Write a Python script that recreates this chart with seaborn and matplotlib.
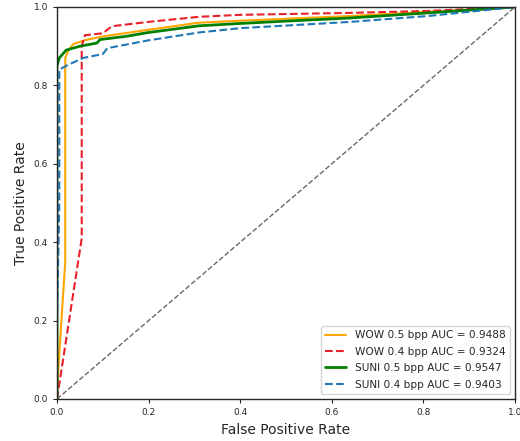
import pandas as pd
import seaborn as sns
import matplotlib.pyplot as plt

# ROC curve points
wow05_fpr = [0.0, 0.003, 0.018, 0.018, 0.025, 0.035, 0.06, 0.10, 0.20, 0.31, 0.40, 0.50, 0.64, 0.81, 0.90, 1.0]
wow05_tpr = [0.0, 0.08, 0.35, 0.87, 0.89, 0.905, 0.915, 0.925, 0.942, 0.960, 0.965, 0.970, 0.977, 0.988, 0.993, 1.0]

wow04_fpr = [0.0, 0.054, 0.054, 0.061, 0.10, 0.12, 0.20, 0.31, 0.40, 0.64, 0.81, 1.0]
wow04_tpr = [0.0, 0.41, 0.90, 0.928, 0.933, 0.951, 0.962, 0.975, 0.980, 0.985, 0.990, 1.0]

suni05_fpr = [0.0, 0.0, 0.005, 0.02, 0.05, 0.087, 0.094, 0.15, 0.20, 0.31, 0.40, 0.50, 0.64, 0.81, 1.0]
suni05_tpr = [0.0, 0.85, 0.87, 0.89, 0.90, 0.908, 0.917, 0.925, 0.935, 0.952, 0.958, 0.964, 0.972, 0.985, 1.0]

suni04_fpr = [0.0, 0.0, 0.005, 0.005, 0.02, 0.057, 0.10, 0.11, 0.20, 0.31, 0.40, 0.64, 0.81, 1.0]
suni04_tpr = [0.0, 0.20, 0.50, 0.84, 0.85, 0.87, 0.88, 0.895, 0.915, 0.935, 0.946, 0.962, 0.977, 1.0]

labels = ['WOW 0.5 bpp AUC = 0.9488', 'WOW 0.4 bpp AUC = 0.9324',
          'SUNI 0.5 bpp AUC = 0.9547', 'SUNI 0.4 bpp AUC = 0.9403']
ticks = [0.0, 0.2, 0.4, 0.6, 0.8, 1.0]

curves = [(wow05_fpr, wow05_tpr), (wow04_fpr, wow04_tpr),
          (suni05_fpr, suni05_tpr), (suni04_fpr, suni04_tpr)]
colors = ['orange', '#e8202a', 'green', '#1f77b4']
styles = ['-', '--', '-', '--']
widths = [1.5, 1.5, 2.0, 1.5]

sns.set_style("ticks")
fig = plt.figure(figsize=(5.2, 4.41), dpi=100)
ax = fig.add_axes([57 / 520, 1 - 399 / 441, 458 / 520, 392 / 441])

for (fpr, tpr), label, color, ls, lw in zip(curves, labels, colors, styles, widths):
    df = pd.DataFrame({'x': fpr, 'y': tpr})
    sns.lineplot(data=df, x='x', y='y', sort=False, estimator=None, ax=ax,
                 color=color, linestyle=ls, linewidth=lw, label=label)

diag = pd.DataFrame({'x': [0, 1], 'y': [0, 1]})
sns.lineplot(data=diag, x='x', y='y', sort=False, estimator=None, ax=ax,
             color='dimgray', linestyle='--', linewidth=1)

ax.set_xlim(0, 1)
ax.set_ylim(0, 1)
ax.set_xticks(ticks)
ax.set_yticks(ticks)
ax.tick_params(labelsize=6.5, length=3, width=0.8)
ax.set_xlabel('False Positive Rate', fontsize=10)
ax.set_ylabel('True Positive Rate', fontsize=10)
for s in ax.spines.values():
    s.set_linewidth(1.0)
ax.legend(loc='lower right', fontsize=7.6, labelspacing=0.6)
plt.savefig('out.png', dpi=100)
